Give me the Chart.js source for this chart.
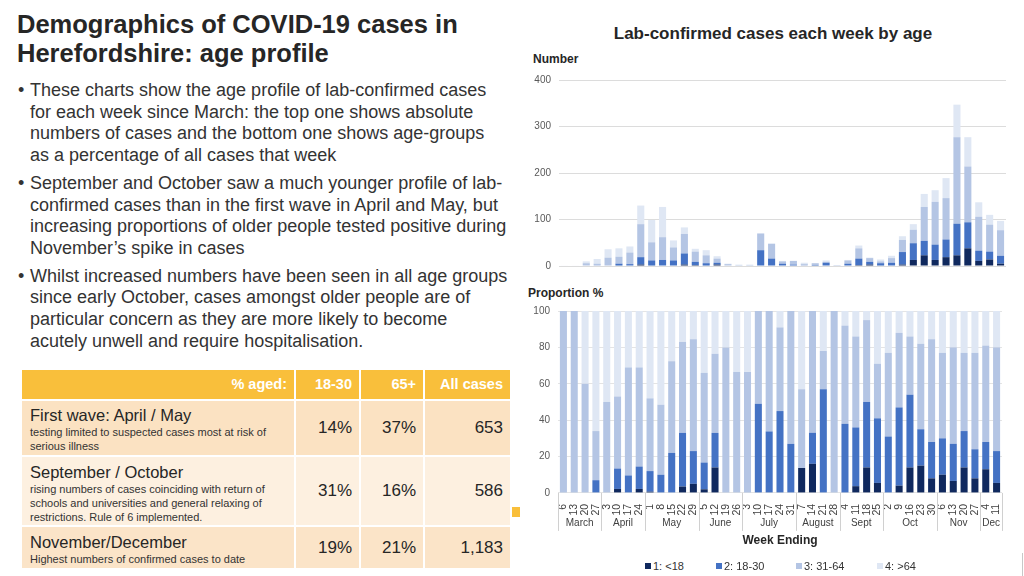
<!DOCTYPE html>
<html>
<head>
<meta charset="utf-8">
<script src="https://cdn.jsdelivr.net/npm/chart.js@4.4.1/dist/chart.umd.min.js"></script>
<style>
  body { margin: 0; width: 1024px; height: 576px; overflow: hidden; background: #fff;
         font-family: "Liberation Sans", Arial, sans-serif; color: #333; position: relative; }
  .abs { position: absolute; }
  #title { left: 17px; top: 10px; font-size: 25.5px; line-height: 29px; font-weight: bold; color: #262626; white-space: nowrap; }
  #bullets { left: 18px; top: 80px; font-size: 18px; line-height: 21.7px; white-space: nowrap; }
  #bullets .p { position: relative; padding-left: 12px; margin-bottom: 6px; }
  #bullets .p::before { content: "•"; position: absolute; left: 0; top: 0; }
  #tbl { left: 22px; top: 370px; display: grid; grid-template-columns: 272px 63px 62px 85px;
         grid-template-rows: 29px 54px 68px 41px; gap: 2px; }
  #tbl div { box-sizing: border-box; }
  .hd { background: #f9bf3b; color: #fff; font-weight: bold; font-size: 14.5px; text-align: right;
        padding-right: 7px; line-height: 29px; }
  .r1 { background: #fbe2c2; } .r2 { background: #fdf0e0; } .r3 { background: #fbe4c8; }
  .lab { padding: 4px 0 0 8px; }
  .lab b { display: block; font-weight: normal; font-size: 16.5px; line-height: 20px; color: #262626; }
  .lab span { display: block; font-size: 11px; line-height: 14px; color: #333; }
  .num { font-size: 17px; text-align: right; padding-right: 7px; display: flex; align-items: center; justify-content: flex-end; color: #262626; }
  .ctitle { font-weight: bold; color: #262626; white-space: nowrap; }
  .leg { top: 560px; font-size: 11px; line-height: 12px; color: #333; white-space: nowrap; }
  .leg i { display: inline-block; width: 6px; height: 6px; margin-right: 2px; vertical-align: 1px; }
</style>
</head>
<body>

<div id="title" class="abs">Demographics of COVID-19 cases in<br>Herefordshire: age profile</div>

<div id="bullets" class="abs">
  <div class="p">These charts show the age profile of lab-confirmed cases<br>for each week since March: the top one shows absolute<br>numbers of cases and the bottom one shows age-groups<br>as a percentage of all cases that week</div>
  <div class="p">September and October saw a much younger profile of lab-<br>confirmed cases than in the first wave in April and May, but<br>increasing proportions of older people tested positive during<br>November’s spike in cases</div>
  <div class="p">Whilst increased numbers have been seen in all age groups<br>since early October, cases amongst older people are of<br>particular concern as they are more likely to become<br>acutely unwell and require hospitalisation.</div>
</div>

<div id="tbl" class="abs">
  <div class="hd">% aged:</div><div class="hd">18-30</div><div class="hd">65+</div><div class="hd">All cases</div>
  <div class="r1 lab"><b>First wave: April / May</b><span>testing limited to suspected cases most at risk of<br>serious illness</span></div>
  <div class="r1 num">14%</div><div class="r1 num">37%</div><div class="r1 num">653</div>
  <div class="r2 lab" style="padding-top:5px"><b>September / October</b><span>rising numbers of cases coinciding with return of<br>schools and universities and general relaxing of<br>restrictions. Rule of 6 implemented.</span></div>
  <div class="r2 num">31%</div><div class="r2 num">16%</div><div class="r2 num">586</div>
  <div class="r3 lab" style="padding-top:5px"><b>November/December</b><span>Highest numbers of confirmed cases to date</span></div>
  <div class="r3 num">19%</div><div class="r3 num">21%</div><div class="r3 num">1,183</div>
</div>
<div class="abs" style="left:512px;top:507px;width:8px;height:10px;background:#f9bf3b"></div>

<div class="abs ctitle" style="left:520px;top:24px;width:506px;text-align:center;font-size:17px;line-height:20px">Lab-confirmed cases each week by age</div>
<div class="abs ctitle" style="left:533px;top:52px;font-size:12px;line-height:14px">Number</div>
<div class="abs ctitle" style="left:528px;top:286px;font-size:12px;line-height:14px">Proportion %</div>

<div class="abs" style="left:520px;top:66px;width:500px;height:214px"><canvas id="countChart"></canvas></div>
<div class="abs" style="left:520px;top:297px;width:500px;height:258px"><canvas id="shareChart"></canvas></div>

<div class="abs leg" style="left:645px"><i style="background:#10295e"></i>1: &lt;18</div>
<div class="abs leg" style="left:716px"><i style="background:#4472c4"></i>2: 18-30</div>
<div class="abs leg" style="left:796px"><i style="background:#b4c5e4"></i>3: 31-64</div>
<div class="abs leg" style="left:877px"><i style="background:#dfe7f4"></i>4: &gt;64</div>
<div class="abs" style="left:1022px;top:553px;width:1px;height:23px;background:#c8c8c8"></div>

<script>
const weeks = ['6','13','20','27','3','10','17','24','1','8','15','22','29','5','12','19','26',
  '3','10','17','24','31','7','14','21','28','4','11','18','25','2','9','16','23','30','6','13','20','27','4','11'];
const months = ['March','April','May','June','July','August','Sept','Oct','Nov','Dec'];
const weeksPerMonth = [4, 4, 5, 4, 5, 4, 4, 5, 4, 2];
const ageGroups = ['1: <18', '2: 18-30', '3: 31-64', '4: >64'];
const colours = ['#10295e', '#4472c4', '#b4c5e4', '#dfe7f4'];

// weekly case counts by age group
const countU18 =   [0,0,0,0,0,1,0,3,1,0,0,3,2,1,3,0,0,0,0, 0,0,0,1,1,0,0,0,2,3,1,0,3,13,23,13,19,23,38,11,14,5];
const count18_30 = [0,0,0,1,0,4,4,16,11,13,12,24,7,5,4,0,0,0,34, 16,5,3,0,1,7,0,5,14,6,5,7,27,36,31,33,38,68,56,22,17,17];
const count31_64 = [1,1,6,4,18,15,25,71,39,49,28,42,22,17,9,4,2,2,36, 32,5,8,3,4,2,2,7,22,8,4,10,26,29,73,92,89,186,120,73,58,55];
const count65 =    [0,0,4,10,18,18,13,40,48,65,15,14,6,11,5,1,1,1,0, 0,1,0,3,0,3,0,1,6,1,4,5,8,12,28,25,43,70,63,31,21,20];

// share of each week's cases (%)
const pctU18 =   [0,0,0,0,0,2.2,0,2.2,0.7,0,0,3.5,5,2,14,0,0,0,0, 0,0,0,13.7,16,0,0,0,3.7,14,5.5,0,4,14,15,8,10,6.6,14,8,13,5.5];
const pct18_30 = [0,0,0,7,0,11.2,9.6,12.3,11.3,10,22,29.5,18,14.7,19,0,0,0,49, 33.8,45,27,0,17,57,0,38,32.3,36,35.5,31,43,40,20,20,20,20.4,20,16,15,17.5];
const pct31_64 = [100,100,60,27,50,39.6,59.4,54.5,40,38.5,50.4,50,61.5,49.3,43.5,80,66.5,66.5,51, 66.2,46,73,43.3,67,21,100,54,50,45,30,46,41,32,47,56.5,47,53,43,53,53,57];
const pct65 =    [0,0,40,66,50,47,31,31,48,51.5,27.6,17,15.5,34,23.5,20,33.5,33.5,0, 0,9,0,43,0,22,0,8,14,5,29,23,12,14,18,15.5,23,20,23,23,19,20];

const font = '"Liberation Sans", Arial, sans-serif';
Chart.defaults.font.family = font;

function makeSets(series) {
  return series.map((d, i) => ({
    label: ageGroups[i],
    data: d,
    backgroundColor: colours[i],
    borderWidth: 0,
    barPercentage: 0.65,
    categoryPercentage: 1
  }));
}

// month names under the week numbers, with separators between months
const monthLabels = {
  id: 'monthLabels',
  afterDraw(chart) {
    const { ctx, chartArea, scales: { x } } = chart;
    const half = (x.getPixelForValue(1) - x.getPixelForValue(0)) / 2;
    const edge = i => Math.round(x.getPixelForValue(i) - half) + 0.5;
    ctx.save();
    ctx.strokeStyle = '#d0d0d0';
    ctx.lineWidth = 1;
    ctx.fillStyle = '#404040';
    ctx.font = '10px ' + font;
    ctx.textAlign = 'center';
    ctx.textBaseline = 'middle';
    let start = 0;
    months.forEach((m, k) => {
      const end = start + weeksPerMonth[k] - 1;
      ctx.beginPath();
      ctx.moveTo(edge(start), chartArea.bottom);
      ctx.lineTo(edge(start), chartArea.bottom + 38);
      ctx.stroke();
      ctx.fillText(m, (x.getPixelForValue(start) + x.getPixelForValue(end)) / 2, chartArea.bottom + 30);
      start = end + 1;
    });
    ctx.beginPath();
    ctx.moveTo(edge(start), chartArea.bottom);
    ctx.lineTo(edge(start), chartArea.bottom + 38);
    ctx.stroke();
    ctx.restore();
  }
};

new Chart(document.getElementById('countChart'), {
  type: 'bar',
  data: { labels: weeks, datasets: makeSets([countU18, count18_30, count31_64, count65]) },
  options: {
    responsive: true,
    maintainAspectRatio: false,
    animation: false,
    layout: { padding: { top: 10, right: 14, bottom: 9, left: 0 } },
    plugins: { legend: { display: false }, tooltip: { enabled: false } },
    scales: {
      x: { stacked: true, display: false },
      y: {
        stacked: true, min: 0, max: 400,
        ticks: { stepSize: 100, color: '#595959', font: { size: 10 }, padding: 8 },
        grid: { color: '#dcdcdc', drawTicks: false },
        border: { display: false },
        afterFit: s => { s.width = 39; }
      }
    }
  }
});

new Chart(document.getElementById('shareChart'), {
  type: 'bar',
  data: { labels: weeks, datasets: makeSets([pctU18, pct18_30, pct31_64, pct65]) },
  options: {
    responsive: true,
    maintainAspectRatio: false,
    animation: false,
    layout: { padding: { top: 8, right: 18, bottom: 7, left: 0 } },
    plugins: { legend: { display: false }, tooltip: { enabled: false } },
    scales: {
      x: {
        stacked: true,
        grid: { display: false },
        border: { display: false },
        ticks: { autoSkip: false, minRotation: 90, maxRotation: 90, color: '#404040', font: { size: 10.5 }, padding: 3 },
        title: { display: true, text: 'Week Ending', color: '#262626', font: { size: 12, weight: 'bold' }, padding: { top: 15, bottom: 0 } }
      },
      y: {
        stacked: true, min: 0, max: 100,
        ticks: { stepSize: 20, color: '#595959', font: { size: 10 }, padding: 8 },
        grid: { color: '#e4e4e4', drawTicks: false },
        border: { display: false },
        afterFit: s => { s.width = 38; }
      }
    }
  },
  plugins: [monthLabels]
});
</script>
</body>
</html>
